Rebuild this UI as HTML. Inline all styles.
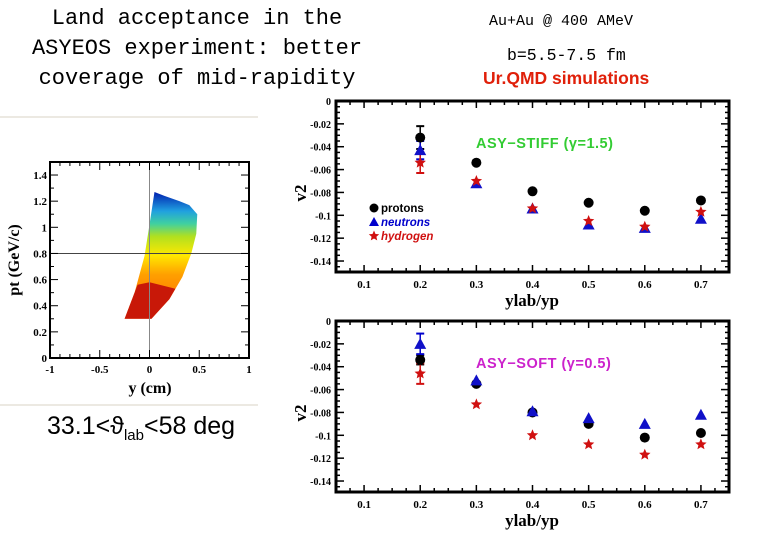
<!DOCTYPE html>
<html><head><meta charset="utf-8"><style>
body{margin:0;background:#fff;width:780px;height:540px;overflow:hidden;position:relative;font-family:"Liberation Sans",sans-serif}
.t{position:absolute;white-space:nowrap}
</style></head><body>
<div class="t" style="left:0;width:394px;top:4px;text-align:center;font:22px/30px 'Liberation Mono',monospace;color:#000">Land acceptance in the<br>ASYEOS experiment: better<br>coverage of mid-rapidity</div>
<div class="t" style="left:489px;top:13px;font:15px 'Liberation Mono',monospace">Au+Au  @ 400 AMeV</div>
<div class="t" style="left:507px;top:46px;font:16.5px 'Liberation Mono',monospace">b=5.5-7.5 fm</div>
<div class="t" style="left:483px;top:68px;font:bold 17.5px 'Liberation Sans',sans-serif;color:#e0200a">Ur.QMD simulations</div>
<div class="t" style="left:47px;top:412px;font:25px 'Liberation Sans',sans-serif">33.1&lt;ϑ<sub style="font-size:15px">lab</sub>&lt;58 deg</div>
<svg id="s" width="780" height="540" style="position:absolute;left:0;top:0"></svg>
<script>
const xCats=[0.2,0.3,0.4,0.5,0.6,0.7];
const xTicks=[0.1,0.2,0.3,0.4,0.5,0.6,0.7];
const yTicks=[0,-0.02,-0.04,-0.06,-0.08,-0.1,-0.12,-0.14];
const stiffProtons=[-0.032,-0.054,-0.079,-0.089,-0.096,-0.087];
const stiffNeutrons=[-0.043,-0.072,-0.094,-0.108,-0.111,-0.103];
const stiffHydrogen=[-0.054,-0.070,-0.094,-0.105,-0.110,-0.097];
const softProtons=[-0.034,-0.055,-0.080,-0.090,-0.102,-0.098];
const softNeutrons=[-0.020,-0.052,-0.079,-0.085,-0.090,-0.082];
const softHydrogen=[-0.046,-0.073,-0.100,-0.108,-0.117,-0.108];
const stiffErr=[0.010,0.008,0.009];
const softErr=[0.004,0.009,0.009];
const accXTicks=[-1,-0.5,0,0.5,1];
const accYTicks=[0,0.2,0.4,0.6,0.8,1,1.2,1.4];
const NS='http://www.w3.org/2000/svg';
const svg=document.getElementById('s');
function mk(tag,at,parent){const e=document.createElementNS(NS,tag);for(const k in at)e.setAttribute(k,at[k]);(parent||svg).appendChild(e);return e;}
function star(cx,cy,r){let p=[];for(let i=0;i<10;i++){const a=-Math.PI/2+i*Math.PI/5,rr=i%2?r*0.45:r;p.push((cx+rr*Math.cos(a)).toFixed(1)+','+(cy+rr*Math.sin(a)).toFixed(1));}return p.join(' ');}
function panel(top,name,label,lcol,P,N,H,err,legend){
  const g=mk('g',{});
  const X=v=>336+(v-0.05)/0.7*393, Y=v=>top-v*1143;
  mk('rect',{x:336,y:top,width:393,height:171,fill:'none',stroke:'#000','stroke-width':3},g);
  for(let v=0.05;v<=0.751;v+=0.025){const x=X(v);const L=Math.round(v*40)%4==0?7:4;mk('line',{x1:x,x2:x,y1:top+171,y2:top+171-L,stroke:'#000','stroke-width':1.5},g);mk('line',{x1:x,x2:x,y1:top,y2:top+L,stroke:'#000','stroke-width':1.5},g);}
  for(let i=0;i<=30;i++){const v=-i*0.005;const y=Y(v);const L=i%4==0?8:4;mk('line',{x1:336,x2:336+L,y1:y,y2:y,stroke:'#000','stroke-width':1.5},g);mk('line',{x1:729,x2:729-L,y1:y,y2:y,stroke:'#000','stroke-width':1.5},g);}
  xTicks.forEach(v=>{const t=mk('text',{x:X(v),y:top+187,'text-anchor':'middle','font-family':'Liberation Serif','font-weight':'bold','font-size':11},g);t.textContent=v;});
  yTicks.forEach(v=>{const t=mk('text',{x:331,y:Y(v)+4,'text-anchor':'end','font-family':'Liberation Serif','font-weight':'bold','font-size':10},g);t.textContent=v;});
  let t=mk('text',{x:0,y:0,transform:`translate(306,${top+92}) rotate(-90)`,'text-anchor':'middle','font-family':'Liberation Serif','font-weight':'bold','font-size':17},g);t.textContent='v2';
  t=mk('text',{x:532,y:top+205,'text-anchor':'middle','font-family':'Liberation Serif','font-weight':'bold','font-size':17},g);t.textContent='ylab/yp';
  t=mk('text',{x:476,y:top+47,'font-family':'Liberation Sans','font-size':14.5,'font-weight':'bold','letter-spacing':0.5,fill:lcol},g);t.textContent=label;
  const ec=['#000','#00c','#d01010'];[P,N,H].forEach((s,k)=>{const x=X(xCats[0]);mk('line',{x1:x,x2:x,y1:Y(s[0]+err[k]),y2:Y(s[0]-err[k]),stroke:ec[k],'stroke-width':1.5},g);[s[0]+err[k],s[0]-err[k]].forEach(v=>mk('line',{x1:x-4,x2:x+4,y1:Y(v),y2:Y(v),stroke:ec[k],'stroke-width':2},g));});
  xCats.forEach((c,i)=>{const x=X(c);
    let e=mk('circle',{cx:x,cy:Y(P[i]),r:5,fill:'#000'},g);
    e=mk('polygon',{points:`${x},${Y(N[i])-6} ${x-6},${Y(N[i])+5} ${x+6},${Y(N[i])+5}`,fill:'#1010c8'},g);
    e=mk('polygon',{points:star(x,Y(H[i]),6),fill:'#d01010'},g);
  });
  if(legend){const lx=374;[['protons','#000','c'],['neutrons','#00c','t'],['hydrogen','#d01010','s']].forEach((l,k)=>{const y=top+107+k*14;
    if(l[2]=='c')mk('circle',{cx:lx,cy:y,r:4.5,fill:'#000'},g);else if(l[2]=='t')mk('polygon',{points:`${lx},${y-5} ${lx-5},${y+4} ${lx+5},${y+4}`,fill:'#00c'},g);else mk('polygon',{points:star(lx,y,5.5),fill:'#d01010'},g);
    const tt=mk('text',{x:lx+7,y:y+4,'font-size':11.5,'font-weight':'bold','font-style':k?'italic':'normal',fill:l[1]},g);tt.textContent=l[0];});}
}
panel(101,'asy-stiff-panel','ASY−STIFF (γ=1.5)','#33cc33',stiffProtons,stiffNeutrons,stiffHydrogen,stiffErr,true);
panel(321,'asy-soft-panel','ASY−SOFT (γ=0.5)','#cc22cc',softProtons,softNeutrons,softHydrogen,softErr,false);
(function(){
  const g=mk('g',{});
  mk('line',{x1:0,x2:258,y1:117,y2:117,stroke:'#e6e2d8','stroke-width':1.5},g);
  mk('line',{x1:0,x2:258,y1:405,y2:405,stroke:'#e6e2d8','stroke-width':1.5},g);
  const X=v=>149.5+v*99.5,Y=v=>358-v*130.7;
  const d=mk('defs',{},g);const lg=mk('linearGradient',{id:'gr',x1:0,y1:1,x2:0,y2:0},d);
  [[0,'#ff6000'],[0.35,'#ffa000'],[0.5,'#ffe800'],[0.65,'#b0e020'],[0.75,'#40d0a0'],[0.85,'#20a0e0'],[1,'#0020b0']].forEach(s=>mk('stop',{offset:s[0],'stop-color':s[1]},lg));
  const poly=[[-0.25,0.3],[0.02,0.3],[0.2,0.45],[0.33,0.62],[0.42,0.8],[0.47,0.95],[0.48,1.1],[0.4,1.17],[0.3,1.2],[0.15,1.24],[0.05,1.27],[0.0,1.02],[-0.05,0.78],[-0.15,0.5]];
  mk('polygon',{points:poly.map(p=>X(p[0])+','+Y(p[1])).join(' '),fill:'url(#gr)'},g);
  mk('polygon',{points:[[-0.25,0.3],[0.02,0.3],[0.2,0.45],[0.26,0.53],[0,0.58],[-0.12,0.56],[-0.15,0.5]].map(p=>X(p[0])+','+Y(p[1])).join(' '),fill:'#c81808'},g);
  mk('line',{x1:X(0),x2:X(0),y1:162,y2:358,stroke:'#888','stroke-width':1},g);
  mk('line',{x1:50,x2:249,y1:Y(0.8),y2:Y(0.8),stroke:'#444','stroke-width':1},g);
  mk('rect',{x:50,y:162,width:199,height:196,fill:'none',stroke:'#000','stroke-width':2},g);
  for(let i=0;i<=20;i++){const x=50+i*9.95;const L=i%5==0?8:4;mk('line',{x1:x,x2:x,y1:358,y2:358-L,stroke:'#000'},g);mk('line',{x1:x,x2:x,y1:162,y2:162+L,stroke:'#000'},g);}
  for(let i=0;i<=15;i++){const y=358-i*13.07;const L=i%2==0?8:4;mk('line',{x1:50,x2:50+L,y1:y,y2:y,stroke:'#000'},g);mk('line',{x1:249,x2:249-L,y1:y,y2:y,stroke:'#000'},g);}
  accXTicks.forEach(v=>{const t=mk('text',{x:X(v),y:373,'text-anchor':'middle','font-family':'Liberation Serif','font-weight':'bold','font-size':11},g);t.textContent=v;});
  accYTicks.forEach(v=>{const t=mk('text',{x:47,y:Y(v)+4,'text-anchor':'end','font-family':'Liberation Serif','font-weight':'bold','font-size':11},g);t.textContent=v;});
  let t=mk('text',{x:150,y:393,'text-anchor':'middle','font-family':'Liberation Serif','font-weight':'bold','font-size':16},g);t.textContent='y (cm)';
  t=mk('text',{x:0,y:0,transform:'translate(19,260) rotate(-90)','text-anchor':'middle','font-family':'Liberation Serif','font-weight':'bold','font-size':16},g);t.textContent='pt (GeV/c)';
})();
</script>
</body></html>
